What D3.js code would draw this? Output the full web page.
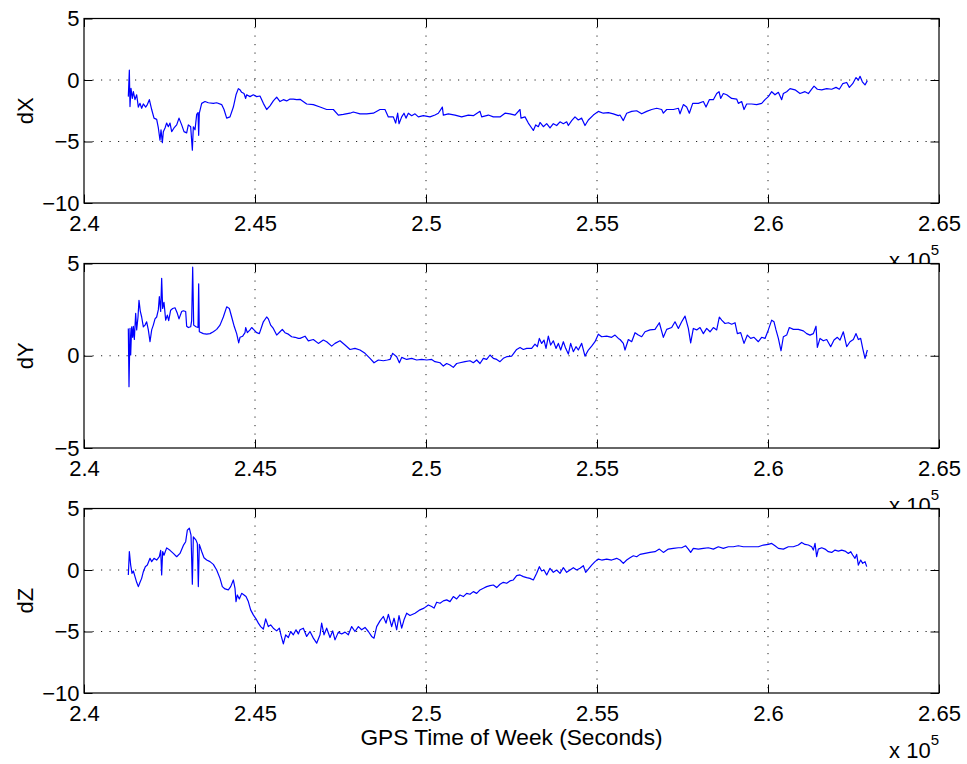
<!DOCTYPE html>
<html>
<head>
<meta charset="utf-8">
<script src="https://cdn.jsdelivr.net/npm/d3@7"></script>
<style>
  html, body { margin: 0; padding: 0; background: #fff; }
  svg { display: block; }
  text { font-family: "Liberation Sans", Arial, Helvetica, sans-serif; fill: #000; }
</style>
</head>
<body>
<svg id="fig" width="967" height="764"></svg>
<script>
// ---- data -----------------------------------------------------------------
const xDomain = [240000, 265000];
const xTicks = [240000, 245000, 250000, 255000, 260000, 265000];
const xTickLabels = ["2.4", "2.45", "2.5", "2.55", "2.6", "2.65"];
const xLabel = "GPS Time of Week (Seconds)";
const panelNames = ["dX", "dY", "dZ"];
const panelDomains = [[-10, 5], [-5, 5], [-10, 5]];
const panelTicks = [[-10, -5, 0, 5], [-5, 0, 5], [-10, -5, 0, 5]];

// [GPS time of week (s), offset]
const dX = [
  [241296,-1.35],[241326,0.8],[241345,-2.16],[241374,-0.68],[241413,-1.5],[241443,-0.95],[241491,-1.6],[241540,-1.2],
  [241589,-2.2],[241638,-1.9],[241686,-2.3],[241735,-1.95],[241803,-2.2],[241852,-2.0],[241911,-1.6],[241979,-2.4],
  [242047,-3.1],[242125,-3.2],[242174,-3.9],[242222,-4.9],[242252,-4.05],[242291,-5.1],[242320,-4.2],[242369,-3.9],
  [242417,-3.5],[242466,-3.8],[242515,-3.5],[242564,-4.2],[242632,-3.9],[242710,-3.65],[242778,-3.1],[242856,-3.65],
  [242924,-4.2],[243002,-4.3],[243051,-3.65],[243119,-3.8],[243168,-5.7],[243197,-3.8],[243246,-4.05],[243295,-2.8],
  [243334,-2.65],[243353,-4.5],[243372,-2.7],[243441,-1.9],[243538,-1.75],[243636,-1.85],[243782,-1.9],[243879,-1.85],
  [244025,-2.0],[244094,-2.4],[244172,-3.1],[244269,-3.0],[244367,-2.2],[244445,-1.2],[244513,-0.7],[244562,-0.8],
  [244610,-1.0],[244679,-1.1],[244727,-1.5],[244756,-1.2],[244854,-1.35],[244951,-1.2],[245049,-1.35],[245146,-1.3],
  [245244,-1.9],[245341,-2.4],[245439,-2.1],[245536,-1.7],[245634,-1.4],[245731,-1.75],[245829,-1.6],[245926,-1.7],
  [246024,-1.55],[246121,-1.55],[246218,-1.6],
  [246316,-1.57],[246511,-1.95],[246706,-2.0],[246901,-2.2],[247096,-2.4],[247291,-2.4],[247437,-2.85],[247583,-2.8],
  [247778,-2.7],[247875,-2.6],[248070,-2.75],[248265,-2.75],[248460,-2.7],[248655,-2.4],[248801,-2.4],[248899,-3.0],
  [249045,-3.0],[249113,-3.5],[249172,-2.7],[249211,-3.55],[249289,-3.0],[249357,-2.7],[249415,-3.1],[249484,-2.7],
  [249581,-2.9],[249679,-2.75],[249776,-3.0],[249922,-2.9],[250117,-3.0],[250263,-2.85],[250361,-2.7],[250478,-2.2],
  [250507,-2.85],[250653,-2.75],[250848,-2.85],[251043,-3.0],[251238,-2.85],[251384,-2.9],[251579,-2.55],[251628,-3.0],
  [251823,-2.85],[251969,-3.0],[252164,-3.0],[252310,-2.7],[252456,-2.75],[252603,-2.85],[252749,-2.4],[252778,-3.1],
  [252895,-3.0],[252992,-3.5],[253090,-3.9],[253139,-4.1],[253207,-3.65],[253285,-3.8],[253334,-3.45],[253431,-3.8],
  [253529,-3.55],[253626,-3.9],[253723,-3.55],[253821,-3.7],[253918,-3.4],[254016,-3.55],[254113,-3.4],[254162,-3.7],
  [254260,-3.3],[254357,-3.0],[254454,-3.25],[254552,-3.1],[254649,-3.7],[254747,-3.25],[254893,-2.85],[255039,-2.55],
  [255185,-2.7],[255332,-2.65],[255478,-2.75],[255624,-2.9],
  [255673,-2.85],[255770,-3.3],[255868,-2.7],[256014,-2.55],[256160,-2.5],[256307,-2.75],[256453,-2.55],[256599,-2.4],
  [256745,-2.3],[256891,-2.4],[256940,-2.7],[257038,-2.4],[257232,-2.4],[257379,-2.3],[257427,-2.75],[257525,-2.0],
  [257622,-2.2],[257700,-2.7],[257798,-1.9],[257963,-1.9],[258110,-1.75],[258188,-2.2],[258285,-1.6],[258402,-1.6],
  [258500,-1.1],[258568,-0.95],[258616,-1.5],[258694,-1.1],[258792,-1.2],[258938,-1.5],[259084,-1.55],[259133,-1.9],
  [259230,-1.75],[259299,-2.4],[259377,-1.95],[259523,-1.95],[259669,-2.0],[259815,-1.9],[259913,-1.6],[260010,-1.35],
  [260108,-0.95],[260205,-1.2],[260303,-1.0],[260400,-1.6],[260449,-1.1],[260546,-0.95],[260644,-0.7],[260790,-0.8],
  [260936,-1.1],[261082,-0.95],[261180,-1.1],[261277,-0.75],[261346,-0.5],[261443,-0.75],[261570,-0.8],[261716,-0.7],
  [261862,-0.75],[261989,-0.6],[262086,-0.75],[262184,-0.3],[262301,-0.2],[262379,-0.6],[262476,-0.3],[262574,0.2],
  [262642,0.0],[262691,0.3],[262759,-0.15],[262837,-0.4],[262905,-0.05]
];

const dY = [
  [241296,1.48],[241316,-1.68],[241345,1.48],[241365,0.04],[241394,1.57],[241423,1.0],[241443,1.6],[241472,0.88],
  [241511,2.3],[241540,1.4],[241579,2.1],[241608,3.0],[241647,2.4],[241686,2.1],[241735,1.57],[241784,1.66],
  [241832,1.84],[241881,1.4],[241930,0.76],[241979,1.4],[242027,1.66],[242076,2.0],[242125,2.1],[242174,2.5],
  [242203,3.2],[242242,2.4],[242271,4.2],[242300,2.56],[242339,2.9],[242388,1.93],[242437,2.2],[242476,1.9],
  [242534,2.47],[242593,2.56],[242661,2.6],[242729,2.3],[242778,2.0],[242856,2.4],[242905,2.44],[242973,2.4],
  [243002,1.6],[243051,1.53],[243119,1.57],[243148,1.9],[243178,4.8],[243207,1.66],[243275,1.57],[243334,1.53],
  [243353,3.9],[243372,1.3],[243489,1.2],[243587,1.17],[243684,1.2],[243782,1.3],[243879,1.43],[243977,1.66],
  [244074,2.1],[244172,2.65],[244250,2.56],[244318,2.1],[244396,1.57],[244464,1.2],[244523,0.7],[244562,1.0],
  [244640,1.06],[244708,1.25],[244727,1.53],[244776,1.25],[244854,1.4],[244903,1.53],[244971,1.4],[245049,1.25],
  [245127,1.2],[245195,1.57],[245244,1.84],[245341,2.1],[245390,2.0],[245458,1.66],[245536,1.48],[245634,1.12],
  [245731,1.3],[245799,1.43],[245877,1.25],[245975,1.17],[246072,1.03],[246170,1.0],[246267,0.94],
  [246316,0.94],[246462,1.06],[246560,0.81],[246706,0.88],[246852,0.67],[246998,0.85],[247096,0.76],[247242,0.52],
  [247339,0.67],[247486,0.81],[247632,0.58],[247778,0.34],[247924,0.4],[248070,0.31],[248217,0.13],[248363,-0.14],
  [248480,-0.38],[248607,-0.23],[248753,-0.27],[248870,-0.23],[248948,-0.2],[249026,0.13],[249143,-0.05],[249221,-0.38],
  [249289,-0.09],[249435,-0.2],[249581,-0.14],[249727,-0.23],[249874,-0.2],[250020,-0.23],[250166,-0.2],[250263,-0.32],
  [250410,-0.38],[250507,-0.56],[250605,-0.42],[250702,-0.5],[250799,-0.63],[250897,-0.42],[250994,-0.38],[251141,-0.32],
  [251287,-0.27],[251384,-0.38],[251482,-0.23],[251579,-0.42],[251677,-0.14],[251774,-0.2],[251872,0.04],[251969,-0.14],
  [252067,-0.2],[252164,-0.32],[252261,-0.14],[252359,-0.05],[252505,-0.02],[252651,0.34],[252749,0.45],[252846,0.34],
  [252944,0.4],[253090,0.4],[253187,0.63],[253256,0.49],[253314,0.94],[253382,0.67],[253451,0.85],[253509,0.4],
  [253577,1.06],[253645,0.58],[253723,0.81],[253801,0.4],[253870,0.67],[253938,0.31],[254016,0.76],[254084,0.4],
  [254162,0.09],[254230,0.67],[254308,0.22],[254386,0.49],[254454,0.31],[254552,0.67],[254649,-0.02],[254747,0.31],
  [254844,0.52],[254942,0.76],[255039,1.17],[255137,1.03],[255283,1.06],[255429,1.0],[255527,1.12],[255624,0.94],
  [255673,0.88],[255770,0.67],[255819,0.31],[255917,0.88],[256014,0.76],[256112,1.25],[256209,1.12],[256307,1.03],
  [256404,1.3],[256550,1.4],[256696,1.43],[256823,1.79],[256940,1.0],[257038,1.43],[257184,1.53],[257281,1.84],
  [257379,1.48],[257476,1.84],[257574,2.15],[257671,1.48],[257739,0.7],[257817,1.48],[257915,1.4],[258012,1.53],
  [258110,1.2],[258207,1.48],[258305,1.3],[258402,1.53],[258500,1.4],[258577,2.1],[258646,1.93],[258743,1.75],
  [258841,1.79],[258938,1.71],[259036,1.79],[259104,1.2],[259201,1.25],[259299,0.67],[259396,1.12],[259494,0.94],
  [259591,1.0],[259718,0.76],[259815,1.0],[259913,0.94],[260010,1.4],[260108,1.93],[260176,1.84],[260234,1.4],
  [260303,0.94],[260381,0.27],[260449,1.03],[260546,1.12],[260624,1.53],[260741,1.43],[260887,1.43],[261034,1.35],
  [261131,1.2],[261229,1.12],[261326,1.2],[261404,1.6],[261443,0.45],[261521,0.94],[261618,0.81],[261716,0.88],
  [261833,0.49],[261930,0.85],[262028,1.0],[262106,0.85],[262203,1.3],[262301,0.49],[262398,0.76],[262496,0.88],
  [262574,1.2],[262642,0.88],[262710,0.94],[262769,0.4],[262837,-0.14],[262905,0.31]
];

const dZ = [
  [241296,-0.4],[241326,1.5],[241365,0.4],[241404,-0.27],[241443,-0.08],[241491,-0.54],[241540,-1.0],[241589,-1.35],
  [241638,-1.0],[241686,-0.68],[241735,-0.14],[241793,0.27],[241852,0.4],[241930,0.95],[241979,0.68],[242047,0.95],
  [242125,0.81],[242203,1.08],[242242,1.6],[242271,-0.4],[242300,1.5],[242339,1.2],[242417,1.8],[242515,1.6],
  [242612,1.35],[242710,1.08],[242807,1.35],[242905,2.0],[242973,2.3],[243022,3.24],[243080,3.4],[243129,2.84],
  [243168,-1.16],[243197,2.7],[243275,2.43],[243314,2.16],[243343,-1.35],[243372,2.08],[243441,1.5],[243509,1.0],
  [243587,0.81],[243684,0.68],[243782,0.46],[243879,0.0],[243977,-0.68],[244045,-1.35],[244123,-1.54],[244220,-1.62],
  [244289,-1.35],[244367,-0.81],[244415,-1.49],[244445,-2.57],[244484,-2.03],[244542,-2.35],[244610,-1.9],[244679,-2.03],
  [244737,-2.16],[244805,-2.57],[244873,-3.24],[244951,-3.65],[245029,-3.97],[245098,-4.32],[245166,-4.6],[245244,-4.8],
  [245312,-3.97],[245390,-4.6],[245458,-4.46],[245536,-4.73],[245634,-4.95],[245712,-4.73],[245760,-5.3],[245829,-6.0],
  [245897,-5.27],[245975,-5.49],[246043,-5.0],[246121,-5.27],[246199,-4.86],[246267,-5.2],
  [246316,-4.86],[246413,-4.73],[246511,-5.4],[246608,-5.0],[246706,-5.54],[246803,-5.95],[246901,-5.27],[246949,-4.32],
  [247018,-5.27],[247096,-4.73],[247193,-5.49],[247271,-4.95],[247339,-5.68],[247437,-5.05],[247534,-5.2],[247632,-5.05],
  [247729,-5.27],[247827,-4.6],[247924,-5.0],[248022,-4.6],[248119,-4.86],[248217,-4.67],[248314,-5.0],[248411,-5.4],
  [248480,-5.54],[248558,-4.6],[248655,-4.14],[248753,-3.78],[248831,-4.32],[248899,-3.6],[248996,-4.6],[249065,-3.92],
  [249143,-4.86],[249211,-3.7],[249289,-4.73],[249357,-4.05],[249435,-3.51],[249532,-3.7],[249679,-3.51],[249825,-3.24],
  [249942,-3.1],[250068,-2.84],[250166,-2.97],[250234,-3.1],[250312,-2.62],[250410,-2.7],[250507,-2.51],[250605,-2.43],
  [250702,-2.57],[250799,-2.16],[250897,-2.35],[250994,-2.03],[251092,-2.16],[251189,-1.9],[251287,-1.97],[251384,-1.76],
  [251482,-1.9],[251579,-1.62],[251677,-1.49],[251774,-1.35],[251872,-1.27],[251969,-1.22],[252067,-1.43],[252164,-1.16],
  [252261,-1.0],[252359,-1.08],[252456,-0.89],[252554,-0.81],[252651,-0.46],[252749,-0.4],[252846,-0.54],[252944,-0.62],
  [253041,-0.68],[253139,-0.81],[253236,-0.27],[253314,0.27],[253382,-0.08],[253451,0.0],[253529,-0.4],[253626,0.14],
  [253723,-0.19],[253821,0.0],[253918,-0.27],[254016,0.19],[254113,-0.19],[254211,0.0],[254308,0.19],[254406,0.0],
  [254503,0.14],[254601,0.35],[254669,-0.19],[254747,0.08],[254844,0.4],[254942,0.68],[255039,0.89],[255137,0.81],
  [255283,0.89],[255429,0.81],[255575,0.95],
  [255673,0.81],[255770,0.54],[255868,0.81],[255965,1.0],[256063,1.16],[256160,1.08],[256258,1.27],[256404,1.35],
  [256550,1.43],[256696,1.49],[256823,1.7],[256940,1.43],[257086,1.7],[257232,1.76],[257379,1.81],[257476,1.81],
  [257593,1.97],[257671,1.7],[257739,1.43],[257817,1.76],[257963,1.7],[258110,1.76],[258256,1.81],[258402,1.7],
  [258548,1.89],[258694,1.76],[258841,1.89],[258987,1.89],[259133,1.97],[259279,1.89],[259425,1.89],[259572,1.89],
  [259718,1.89],[259864,2.03],[260010,2.08],[260108,2.16],[260205,1.97],[260303,1.76],[260449,1.7],[260595,1.89],
  [260741,1.89],[260887,2.03],[260985,2.24],[261082,2.08],[261180,2.03],[261277,1.89],[261326,1.62],[261375,2.16],
  [261423,1.08],[261472,1.7],[261570,1.81],[261667,1.7],[261765,1.49],[261862,1.43],[261960,1.62],[262057,1.54],
  [262155,1.62],[262252,1.54],[262349,1.35],[262418,1.49],[262476,1.22],[262544,0.95],[262593,1.27],[262642,0.4],
  [262710,0.81],[262769,0.54],[262837,0.68],[262886,0.27]
];

const panelSeries = [dX, dY, dZ];

// ---- layout ---------------------------------------------------------------
const left = 84, right = 939;
const panelTops = [18.5, 263.5, 508.5];
const panelHeight = 184.5;
const tickLen = 8.5;
const fontSize = 22;

const svg = d3.select("#fig");
svg.append("rect").attr("width", 967).attr("height", 764).attr("fill", "#fff");

const x = d3.scaleLinear().domain(xDomain).range([left, right]);

panelNames.forEach((name, i) => {
  const top = panelTops[i], bottom = top + panelHeight;
  const y = d3.scaleLinear().domain(panelDomains[i]).range([bottom, top]);
  const g = svg.append("g");

  // axes background (covers any overhanging text from the panel above)
  g.append("rect")
    .attr("x", left).attr("y", top)
    .attr("width", right - left).attr("height", panelHeight)
    .attr("fill", "#fff");

  // dotted grid
  const gx = xTicks.filter(t => t > xDomain[0] && t < xDomain[1]);
  const gy = panelTicks[i].filter(t => t > panelDomains[i][0] && t < panelDomains[i][1]);
  g.append("g").selectAll("line").data(gx).join("line")
    .attr("x1", d => x(d)).attr("x2", d => x(d))
    .attr("y1", top).attr("y2", bottom)
    .attr("stroke", "#222").attr("stroke-width", 1)
    .attr("stroke-dasharray", "1.2,7.3");
  g.append("g").selectAll("line").data(gy).join("line")
    .attr("x1", left).attr("x2", right)
    .attr("y1", d => y(d)).attr("y2", d => y(d))
    .attr("stroke", "#222").attr("stroke-width", 1)
    .attr("stroke-dasharray", "1.2,7.3");

  // data trace
  const line = d3.line().x(d => x(d[0])).y(d => y(d[1]));
  g.append("path")
    .datum(panelSeries[i])
    .attr("d", line)
    .attr("fill", "none")
    .attr("stroke", "#0000ff")
    .attr("stroke-width", 1.2)
    .attr("stroke-linejoin", "round");

  // axes: inward ticks on all four sides
  const fmtX = (d) => xTickLabels[xTicks.indexOf(d)];
  const bottomAxis = d3.axisBottom(x).tickValues(xTicks).tickFormat(fmtX)
    .tickSizeInner(-tickLen).tickSizeOuter(0).tickPadding(12);
  const topAxis = d3.axisTop(x).tickValues(xTicks).tickFormat("")
    .tickSizeInner(-tickLen).tickSizeOuter(0);
  const leftAxis = d3.axisLeft(y).tickValues(panelTicks[i]).tickFormat(d3.format("d"))
    .tickSizeInner(-tickLen).tickSizeOuter(0).tickPadding(4.5);
  const rightAxis = d3.axisRight(y).tickValues(panelTicks[i]).tickFormat("")
    .tickSizeInner(-tickLen).tickSizeOuter(0);

  const axes = [
    g.append("g").attr("transform", `translate(0,${bottom})`).call(bottomAxis),
    g.append("g").attr("transform", `translate(0,${top})`).call(topAxis),
    g.append("g").attr("transform", `translate(${left},0)`).call(leftAxis),
    g.append("g").attr("transform", `translate(${right},0)`).call(rightAxis)
  ];
  axes.forEach(a => {
    a.select(".domain").remove();
    a.selectAll(".tick line").attr("stroke", "#000").attr("stroke-width", 1);
    a.selectAll(".tick text")
      .attr("font-family", "Liberation Sans, Arial, sans-serif")
      .attr("font-size", fontSize)
      .attr("fill", "#000");
  });
  // MATLAB-style minus sign
  axes[2].selectAll(".tick text").text(d => d < 0 ? "\u2212" + Math.abs(d) : String(d));

  // box
  g.append("rect")
    .attr("x", left).attr("y", top)
    .attr("width", right - left).attr("height", panelHeight)
    .attr("fill", "none").attr("stroke", "#000").attr("stroke-width", 1.2);

  // y label
  g.append("text")
    .attr("transform", `translate(33,${(top + bottom) / 2}) rotate(-90)`)
    .attr("text-anchor", "middle")
    .attr("font-size", fontSize)
    .text(name);

  // exponent label
  const ex = g.append("text")
    .attr("x", right).attr("y", bottom + 65)
    .attr("text-anchor", "end")
    .attr("font-size", fontSize);
  ex.append("tspan").text("x 10");
  ex.append("tspan").attr("dy", -13).attr("font-size", 15).text("5");
});

// x label
svg.append("text")
  .attr("x", (left + right) / 2)
  .attr("y", 745)
  .attr("text-anchor", "middle")
  .attr("font-size", 22.7)
  .text(xLabel);
</script>
</body>
</html>
